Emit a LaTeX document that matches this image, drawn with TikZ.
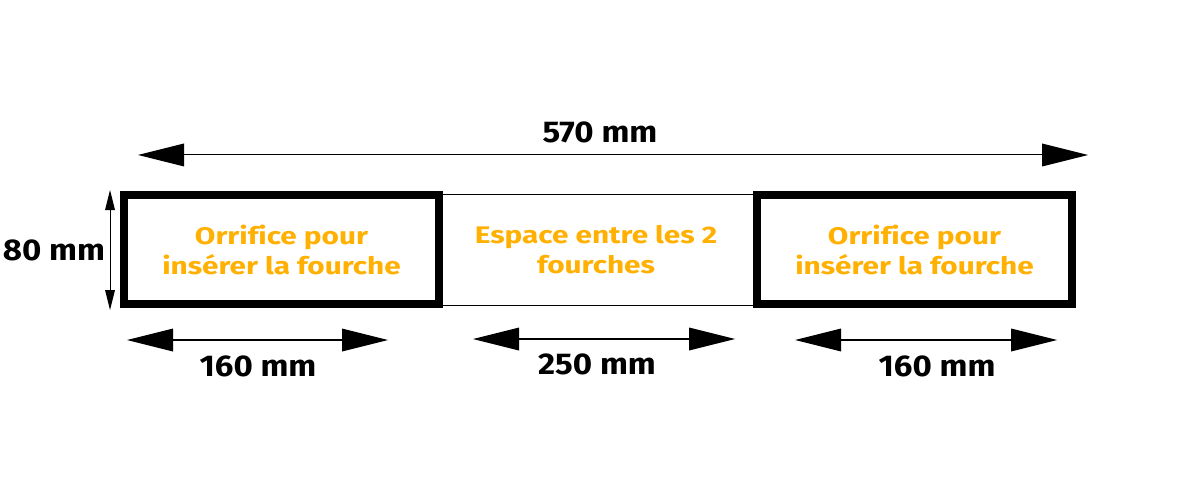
\documentclass[tikz,border=0pt]{standalone}
\usepackage{fontspec}
\setmainfont{Fira Sans}
\newfontfamily\orangefont[FakeStretch=1.24,Ligatures=NoCommon]{Fira Sans}
\newfontfamily\dimfont[FakeStretch=1.1,Ligatures=NoCommon]{Fira Sans}
\usetikzlibrary{arrows.meta}
\definecolor{orng}{RGB}{255,176,0}
\begin{document}
\begin{tikzpicture}[x=1pt,y=-1pt,
  fork/.style={draw=black,line width=8pt,minimum width=315pt,minimum height=109pt,inner sep=0pt,
    text=orng,font=\orangefont\fontsize{24}{30}\selectfont\bfseries,align=center},
  gapbox/.style={draw=black,line width=1pt,minimum width=318pt,minimum height=110pt,inner sep=0pt,
    text=orng,font=\orangefont\fontsize{24}{30}\selectfont\bfseries,align=center},
  dimlbl/.style={font=\dimfont\fontsize{30}{36}\selectfont\bfseries,inner sep=0pt,text=black},
  bigtip/.tip={Triangle[length=46pt,width=23pt,line width=0pt]},
  smalltip/.tip={Triangle[length=20pt,width=10pt,line width=0pt]},
  bigarrow/.style={bigtip-bigtip},
]
\useasboundingbox (0,0) rectangle (1200,500);
\fill[white] (0,0) rectangle (1200,500);

% boxes
\node[gapbox] (gap) at (596,250) {Espace entre les 2\\fourches};
\node[fork] (leftfork) at (281.5,249.5) {Orrifice pour\\insérer la fourche};
\node[fork] (rightfork) at (914.5,249.5) {Orrifice pour\\insérer la fourche};

% overall width
\coordinate (t1) at (138,155);
\coordinate (t2) at (1088,155);
\draw[line width=1pt,bigarrow] (t1) -- (t2);
\node[dimlbl] (total) at (600,132) {570 mm};

% height
\coordinate (h1) at (110,190);
\coordinate (h2) at (110,310);
\draw[line width=1pt,smalltip-smalltip] (h1) -- (h2);
\node[dimlbl] (height) at (54,250) {80 mm};

% bottom dimensions
\coordinate (a1) at (127,340);
\coordinate (a2) at (388,340);
\draw[line width=2.5pt,bigarrow] (a1) -- (a2);
\node[dimlbl] (wleft) at (258,366) {160 mm};

\coordinate (b1) at (473,339);
\coordinate (b2) at (735,339);
\draw[line width=2.5pt,bigarrow] (b1) -- (b2);
\node[dimlbl] (wgap) at (597,364) {250 mm};

\coordinate (c1) at (795,340);
\coordinate (c2) at (1057,340);
\draw[line width=2.5pt,bigarrow] (c1) -- (c2);
\node[dimlbl] (wright) at (937,366) {160 mm};
\end{tikzpicture}
\end{document}
